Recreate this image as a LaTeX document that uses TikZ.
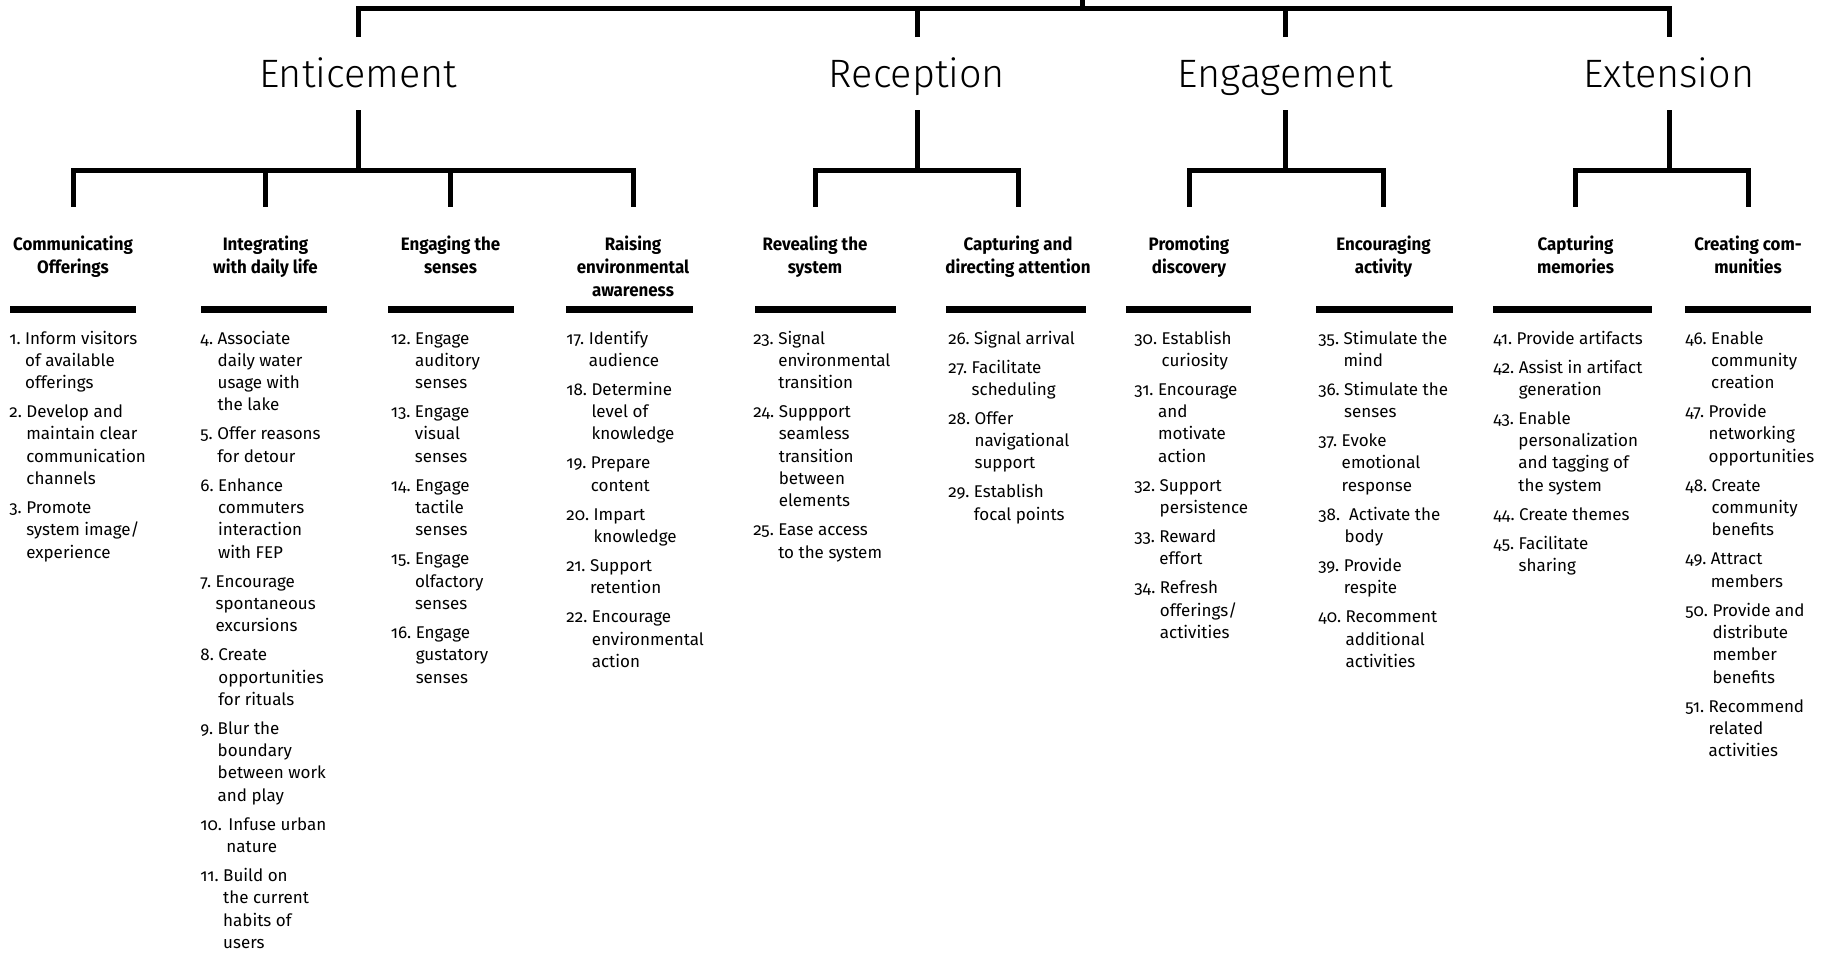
\documentclass[tikz,border=0pt]{standalone}
\usepackage{fontspec}
\setmainfont{Fira Sans}[Numbers=OldStyle, BoldFeatures={FakeStretch=0.94}]
\newfontfamily\lightfont{Fira Sans Light}

% gap added between two numbered tactics
\newlength\itmgap
\setlength\itmgap{3.35pt}
% one numbered tactic: number, then its lines with a hanging indent
\newcommand\itm[2]{\hbox{#1.\ \begin{tabular}[t]{@{}l@{}}#2\end{tabular}}\nointerlineskip\vskip\itmgap}
\newcommand\hd[1]{\begin{tabular}[t]{@{}c@{}}#1\end{tabular}}

\begin{document}
\begin{tikzpicture}[x=0.5pt,y=-0.5pt,
  link/.style={line width=2.5pt, line join=miter, line cap=butt},
  rulebar/.style={line width=3.5pt, line cap=butt},
  phase/.style={font=\lightfont\fontsize{19.8pt}{24pt}\selectfont, anchor=base,
    text height=13.75pt, text depth=0pt, inner ysep=11.2pt, inner xsep=0pt},
  strat/.style={font=\bfseries\fontsize{9pt}{11.5pt}\selectfont, anchor=base,
    inner ysep=13.4pt, inner xsep=0pt},
  tactics/.style={font=\fontsize{8.5pt}{11.15pt}\selectfont, anchor=base west, inner sep=0pt}]

\fill[white] (0,0) rectangle (1843,954);
\path[use as bounding box] (0,0) rectangle (1843,954);

% ---- root and the four phases
\coordinate (root) at (1082.5,0);
\coordinate (hub) at (1082.5,8.5);
\node[phase] (ent) at (358,87.3) {Enticement};
\node[phase] (rec) at (917,87.3) {Reception};
\node[phase] (eng) at (1285.5,87.3) {Engagement};
\node[phase] (ext) at (1669,87.3) {Extension};

\draw[link] (root) -- (hub);
\draw[link] (ent.north) -- (ent.north |- hub) -- (ext.north |- hub) -- (ext.north);
\draw[link] (rec.north) -- (rec.north |- hub);
\draw[link] (eng.north) -- (eng.north |- hub);

% ---- strategies
\node[strat] (s1) at (73,250) {\hd{Communicating\\Offerings}};
\node[strat] (s2) at (265.5,250) {\hd{Integrating\\with daily life}};
\node[strat] (s3) at (450.5,250) {\hd{Engaging the\\senses}};
\node[strat] (s4) at (633,250) {\hd{Raising\\environmental\\awareness}};
\node[strat] (s5) at (815,250) {\hd{Revealing the\\system}};
\node[strat] (s6) at (1018,250) {\hd{Capturing and\\directing attention}};
\node[strat] (s7) at (1189,250) {\hd{Promoting\\discovery}};
\node[strat] (s8) at (1383.5,250) {\hd{Encouraging\\activity}};
\node[strat] (s9) at (1575.5,250) {\hd{Capturing\\memories}};
\node[strat] (s10) at (1748,250) {\hd{Creating com-\\munities}};

\coordinate (entbar) at (358,170.5);
\coordinate (recbar) at (917,170.5);
\coordinate (engbar) at (1285.5,170.5);
\coordinate (extbar) at (1669,170.5);

\draw[link] (ent.south) -- (entbar);
\draw[link] (s1.north) -- (s1.north |- entbar) -- (s4.north |- entbar) -- (s4.north);
\draw[link] (s2.north) -- (s2.north |- entbar);
\draw[link] (s3.north) -- (s3.north |- entbar);

\draw[link] (rec.south) -- (recbar);
\draw[link] (s5.north) -- (s5.north |- recbar) -- (s6.north |- recbar) -- (s6.north);

\draw[link] (eng.south) -- (engbar);
\draw[link] (s7.north) -- (s7.north |- engbar) -- (s8.north |- engbar) -- (s8.north);

\draw[link] (ext.south) -- (extbar);
\draw[link] (s9.north) -- (s9.north |- extbar) -- (s10.north |- extbar) -- (s10.north);

% ---- heavy rules under the strategy titles
\draw[rulebar] (10,309.5) -- (136,309.5);
\draw[rulebar] (201,309.5) -- (327,309.5);
\draw[rulebar] (388,309.5) -- (514,309.5);
\draw[rulebar] (566,309.5) -- (693,309.5);
\draw[rulebar] (755,309.5) -- (896,309.5);
\draw[rulebar] (946,309.5) -- (1086,309.5);
\draw[rulebar] (1126,309.5) -- (1251,309.5);
\draw[rulebar] (1316,309.5) -- (1453,309.5);
\draw[rulebar] (1493,309.5) -- (1652,309.5);
\draw[rulebar] (1685,309.5) -- (1811,309.5);

% ---- tactics
\node[tactics] (t1) at (9,344) {\vtop{%
  \itm{1}{Inform visitors\\of available\\offerings}%
  \itm{2}{Develop and\\maintain clear\\communication\\channels}%
  \itm{3}{Promote\\system image/\\experience}}};

\node[tactics] (t2) at (200,344) {\vtop{%
  \itm{4}{Associate\\daily water\\usage with\\the lake}%
  \itm{5}{Offer reasons\\for detour}%
  \itm{6}{Enhance\\commuters\\interaction\\with FEP}%
  \itm{7}{Encourage\\spontaneous\\excursions}%
  \itm{8}{Create\\opportunities\\for rituals}%
  \itm{9}{Blur the\\boundary\\between work\\and play}%
  \itm{10}{\kern1pt Infuse urban\\nature}%
  \itm{11}{Build on\\the current\\habits of\\users}}};

\node[tactics] (t3) at (390.5,344) {\vtop{%
  \itm{12}{Engage\\auditory\\senses}%
  \itm{13}{Engage\\visual\\senses}%
  \itm{14}{Engage\\tactile\\senses}%
  \itm{15}{Engage\\olfactory\\senses}%
  \itm{16}{Engage\\gustatory\\senses}}};

\node[tactics] (t4) at (566,344) {\vtop{%
  \itm{17}{Identify\\audience}%
  \itm{18}{Determine\\level of\\knowledge}%
  \itm{19}{Prepare\\content}%
  \itm{20}{Impart\\knowledge}%
  \itm{21}{Support\\retention}%
  \itm{22}{Encourage\\environmental\\action}}};

\node[tactics] (t5) at (753,344) {\vtop{%
  \itm{23}{Signal\\environmental\\transition}%
  \itm{24}{Suppport\\seamless\\transition\\between\\elements}%
  \itm{25}{Ease access\\to the system}}};

\node[tactics] (t6) at (948,344) {\vtop{%
  \itm{26}{Signal arrival}%
  \itm{27}{Facilitate\\scheduling}%
  \itm{28}{Offer\\navigational\\support}%
  \itm{29}{Establish\\focal points}}};

\node[tactics] (t7) at (1134,344) {\vtop{%
  \itm{30}{Establish\\curiosity}%
  \itm{31}{Encourage\\and\\motivate\\action}%
  \itm{32}{Support\\persistence}%
  \itm{33}{Reward\\effort}%
  \itm{34}{Refresh\\offerings/\\activities}}};

\node[tactics] (t8) at (1318,344) {\vtop{%
  \itm{35}{Stimulate the\\mind}%
  \itm{36}{Stimulate the\\senses}%
  \itm{37}{Evoke\\emotional\\response}%
  \itm{38}{\ Activate the\\body}%
  \itm{39}{Provide\\respite}%
  \itm{40}{Recomment\\additional\\activities}}};

\node[tactics] (t9) at (1493,344) {\vtop{%
  \itm{41}{Provide artifacts}%
  \itm{42}{Assist in artifact\\generation}%
  \itm{43}{Enable\\personalization\\and tagging of\\the system}%
  \itm{44}{Create themes}%
  \itm{45}{Facilitate\\sharing}}};

\node[tactics] (t10) at (1685,344) {\vtop{%
  \itm{46}{Enable\\community\\creation}%
  \itm{47}{Provide\\networking\\opportunities}%
  \itm{48}{Create\\community\\benefits}%
  \itm{49}{Attract\\members}%
  \itm{50}{Provide and\\distribute\\member\\benefits}%
  \itm{51}{Recommend\\related\\activities}}};

\end{tikzpicture}
\end{document}
